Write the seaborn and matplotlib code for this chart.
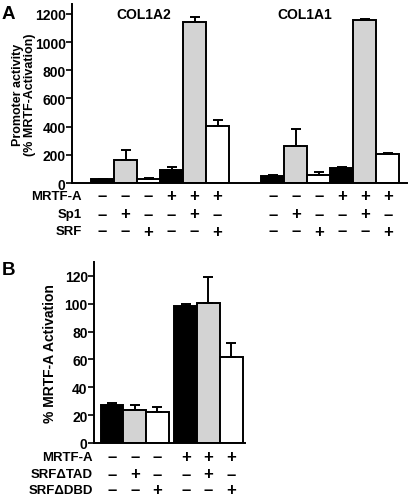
import numpy as np
import pandas as pd
import matplotlib.pyplot as plt
import matplotlib.transforms as mtransforms
import seaborn as sns

# panel A data
a_groups = ["COL1A2", "COL1A1"]
a_conds = ["ctrl", "sp1", "srf", "ctrl", "sp1", "srf"]
a_col1a2 = [25, 160, 30, 95, 1140, 405]
a_col1a2_err = [6, 75, 5, 15, 40, 45]
a_col1a1 = [50, 260, 60, 105, 1155, 205]
a_col1a1_err = [8, 120, 15, 5, 10, 5]
a_rows = ["MRTF-A", "Sp1", "SRF"]
a_signs = [["–", "–", "–", "+", "+", "+"],
           ["–", "+", "–", "–", "+", "–"],
           ["–", "–", "+", "–", "–", "+"]]

# panel B data
b_conds = ["ctrl", "sp1", "srf", "ctrl", "sp1", "srf"]
b_vals = [27, 24, 22.5, 98.5, 100.5, 61.5]
b_err = [2, 3.5, 3.5, 1.5, 19, 10]
b_rows = ["MRTF-A", "SRF\u0394TAD", "SRF\u0394DBD"]
b_signs = [["–", "–", "–", "+", "+", "+"],
           ["–", "+", "–", "–", "+", "–"],
           ["–", "–", "+", "–", "–", "+"]]

colors = {"ctrl": "black", "sp1": "#d3d3d3", "srf": "white"}

sns.set_style("ticks", {"axes.edgecolor": "black", "xtick.color": "black",
                        "ytick.color": "black", "text.color": "black",
                        "axes.labelcolor": "black"})
plt.rcParams["font.family"] = ["Liberation Sans", "DejaVu Sans"]
plt.rcParams["font.weight"] = "bold"

W, H = 408, 502
fig = plt.figure(figsize=(W / 100, H / 100), dpi=100)


def px_axes(l, t, r, b):
    return fig.add_axes([l / W, 1 - b / H, (r - l) / W, (b - t) / H])


def draw_bars(ax, pos, vals, errs, conds):
    df = pd.DataFrame({"pos": pos, "val": vals, "cond": conds})
    sns.barplot(data=df, x="pos", y="val", hue="cond", palette=colors,
                native_scale=True, dodge=False, width=1.0, errorbar=None,
                edgecolor="black", linewidth=1.4, legend=False, ax=ax)
    ax.errorbar(pos, vals, yerr=[np.zeros(len(errs)), errs], fmt="none",
                ecolor="black", elinewidth=1.4, capsize=3.5, capthick=1.4)


def style_axes(ax):
    sns.despine(ax=ax)
    for s in ["left", "bottom"]:
        ax.spines[s].set_linewidth(1.4)
    ax.tick_params(axis="y", length=4, width=1.2, labelsize=10, pad=0.5)
    ax.tick_params(axis="x", length=0, labelbottom=False)
    for t in ax.get_yticklabels():
        t.set_fontweight("bold")
    ax.set_xlabel("")


def sign_rows(ax, pos, rows, signs, ys, label_x):
    tr = mtransforms.blended_transform_factory(ax.transData, fig.transFigure)
    for name, row, y in zip(rows, signs, ys):
        fig.text(label_x / W, 1 - y / H, name, ha="right", va="center",
                 fontsize=9.5, fontweight="bold")
        for p, s in zip(pos, row):
            ax.text(p, 1 - y / H, s, transform=tr, ha="center", va="center",
                    fontsize=12, fontweight="bold")


# panel A
axA = px_axes(72, 5, 407, 184)
posA1 = np.arange(6)
posA2 = np.arange(6) + 7.4
draw_bars(axA, np.concatenate([posA1, posA2]), a_col1a2 + a_col1a1,
          a_col1a2_err + a_col1a1_err, a_conds + a_conds)
axA.set_xlim(-1.33, 13.24)
axA.set_ylim(0, 1270)
axA.set_yticks(range(0, 1201, 200))
style_axes(axA)
axA.set_ylabel("Promoter activity\n(% MRTF-Activation)", fontsize=9,
               fontweight="bold", linespacing=1.05)
axA.yaxis.set_label_coords(-0.107, 0.5)
sign_rows(axA, np.concatenate([posA1, posA2]), a_rows,
          [r + r for r in a_signs], [197, 215, 232], 82)
fig.text(144 / W, 1 - 15 / H, a_groups[0], ha="center", va="center",
         fontsize=10, fontweight="bold")
fig.text(305 / W, 1 - 15 / H, a_groups[1], ha="center", va="center",
         fontsize=10, fontweight="bold")
fig.text(2 / W, 1 - 14.5 / H, "A", ha="left", va="center", fontsize=13.5,
         fontweight="bold")

# panel B
axB = px_axes(94, 263, 245, 444)
posB = np.array([0, 1, 2, 3.25, 4.25, 5.25])
draw_bars(axB, posB, b_vals, b_err, b_conds)
axB.set_xlim(-0.79, 5.86)
axB.set_ylim(0, 130)
axB.set_yticks(range(0, 121, 20))
style_axes(axB)
axB.set_ylabel("% MRTF-A Activation", fontsize=10, fontweight="bold")
axB.yaxis.set_label_coords(-0.245, 0.5)
sign_rows(axB, posB, b_rows, b_signs, [458, 475, 491], 93)
fig.text(2 / W, 1 - 271 / H, "B", ha="left", va="center", fontsize=13.5,
         fontweight="bold")

fig.savefig("out.png", dpi=100)
